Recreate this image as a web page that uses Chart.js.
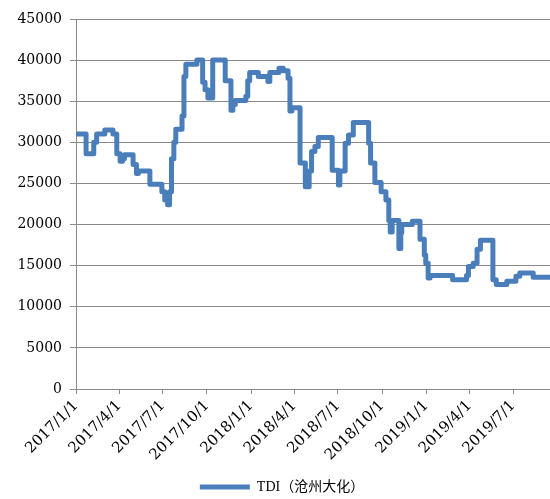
<!DOCTYPE html>
<html>
<head>
<meta charset="utf-8">
<title>TDI（沧州大化）</title>
<script src="https://cdn.jsdelivr.net/npm/chart.js@4/dist/chart.umd.min.js"></script>
<style>
  html, body { margin: 0; padding: 0; background: #ffffff; }
  canvas { display: block; }
</style>
</head>
<body>
<canvas id="chart" width="550" height="499"></canvas>
<script>
// Price change dates (the price holds until the next date)
const priceDates = [
  '2017-01-01', '2017-01-22', '2017-02-07', '2017-02-13', '2017-03-02', '2017-03-19',
  '2017-03-27', '2017-04-03', '2017-04-08', '2017-04-12', '2017-04-30', '2017-05-07',
  '2017-05-11', '2017-06-04', '2017-06-29', '2017-07-05', '2017-07-11', '2017-07-15',
  '2017-07-19', '2017-07-24', '2017-07-28', '2017-08-10', '2017-08-14', '2017-08-18',
  '2017-09-10', '2017-09-22', '2017-09-27', '2017-10-03', '2017-10-13', '2017-11-08',
  '2017-11-20', '2017-11-24', '2017-11-29', '2017-12-21', '2017-12-25', '2017-12-29',
  '2018-01-16', '2018-02-05', '2018-02-09', '2018-02-28', '2018-03-09', '2018-03-19',
  '2018-03-23', '2018-03-27', '2018-04-13', '2018-04-24', '2018-05-02', '2018-05-07',
  '2018-05-14', '2018-05-21', '2018-06-19', '2018-07-02', '2018-07-05', '2018-07-16',
  '2018-07-23', '2018-08-02', '2018-09-03', '2018-09-07', '2018-09-16', '2018-09-29',
  '2018-10-09', '2018-10-15', '2018-10-18', '2018-10-22', '2018-11-05', '2018-11-09',
  '2018-11-11', '2018-12-03', '2018-12-19', '2018-12-28', '2018-12-31', '2019-01-05',
  '2019-01-09', '2019-02-25', '2019-03-26', '2019-03-30', '2019-04-09', '2019-04-17',
  '2019-04-24', '2019-05-20', '2019-05-27', '2019-06-18', '2019-07-07', '2019-07-15',
  '2019-08-12', '2019-09-16'
];

// TDI price, yuan/ton
const tdiPrices = [
  31000, 28600, 30000, 31000, 31500, 31000,
  28600, 27700, 28000, 28500, 27300, 26200,
  26500, 24900, 24000, 23000, 22400, 24000,
  28000, 30000, 31600, 33200, 38000, 39500,
  40000, 37300, 36400, 35400, 40000, 37500,
  33900, 34600, 35100, 35600, 37500, 38500,
  38000, 37400, 38500, 39000, 38700, 37800,
  33800, 34200, 27500, 24600, 26500, 28900,
  29500, 30600, 26600, 24800, 26500, 29900,
  30900, 32400, 29900, 27500, 25100, 24000,
  23000, 20500, 19100, 20500, 17100, 19000,
  20000, 20400, 18200, 16300, 15300, 13500,
  13800, 13300, 13800, 14900, 15300, 17000,
  18100, 13300, 12700, 13100, 13700, 14100,
  13600, 13600
];

// Quarterly date labels on the horizontal axis
const dateTickLabels = [
  '2017/1/1', '2017/4/1', '2017/7/1', '2017/10/1',
  '2018/1/1', '2018/4/1', '2018/7/1', '2018/10/1',
  '2019/1/1', '2019/4/1', '2019/7/1'
];

const seriesName = 'TDI（沧州大化）';

const ORIGIN = Date.UTC(2017, 0, 1);
const MS_PER_DAY = 86400000;
function dayIndex(text) {
  const [y, m, d] = text.split(/[-\/]/).map(Number);
  return Math.round((Date.UTC(y, m - 1, d) - ORIGIN) / MS_PER_DAY);
}

const points = priceDates.map((d, i) => ({ x: dayIndex(d), y: tdiPrices[i] }));
const tickDays = dateTickLabels.map(dayIndex);

const gridGrey = '#8a8a8a';
const lineBlue = '#4a7ebb';
const serifFamily = '"DejaVu Serif", "Liberation Serif", serif';

new Chart(document.getElementById('chart'), {
  type: 'line',
  data: {
    datasets: [{
      label: seriesName,
      data: points,
      borderColor: lineBlue,
      backgroundColor: lineBlue,
      borderWidth: 5,
      borderJoinStyle: 'round',
      borderCapStyle: 'round',
      // each price holds flat until the next change date
      stepped: 'before',
      pointRadius: 0,
      pointHoverRadius: 0,
      fill: false,
      tension: 0
    }]
  },
  options: {
    responsive: false,
    animation: false,
    devicePixelRatio: 1,
    layout: { padding: { top: 19, right: 0, bottom: -5, left: 14 } },
    plugins: {
      tooltip: { enabled: false },
      legend: {
        position: 'bottom',
        labels: {
          usePointStyle: true,
          pointStyle: 'line',
          pointStyleWidth: 50,
          padding: 10,
          color: '#000000',
          font: { family: '"Liberation Serif", "Noto Sans CJK SC", serif', size: 14 }
        }
      }
    },
    scales: {
      x: {
        type: 'linear',
        min: 0,
        max: dayIndex(priceDates[priceDates.length - 1]),
        afterBuildTicks: (scale) => {
          scale.ticks = tickDays.map(v => ({ value: v }));
        },
        afterFit: (scale) => { scale.height = 81; },
        grid: {
          drawOnChartArea: false,
          drawTicks: true,
          tickLength: 5,
          color: gridGrey,
          lineWidth: 1
        },
        border: { display: true, color: gridGrey, width: 1 },
        ticks: {
          autoSkip: false,
          minRotation: 45,
          maxRotation: 45,
          padding: 3,
          color: '#000000',
          font: { family: serifFamily, size: 15 },
          callback: (value, index) => dateTickLabels[index]
        }
      },
      y: {
        min: 0,
        max: 45000,
        afterFit: (scale) => { scale.width = 62; },
        grid: {
          color: gridGrey,
          lineWidth: 1,
          drawTicks: true,
          tickLength: 6
        },
        border: { display: true, color: gridGrey, width: 1 },
        ticks: {
          stepSize: 5000,
          padding: 8,
          color: '#000000',
          font: { family: serifFamily, size: 14 },
          callback: (value) => String(value)
        }
      }
    }
  }
});
</script>
</body>
</html>
